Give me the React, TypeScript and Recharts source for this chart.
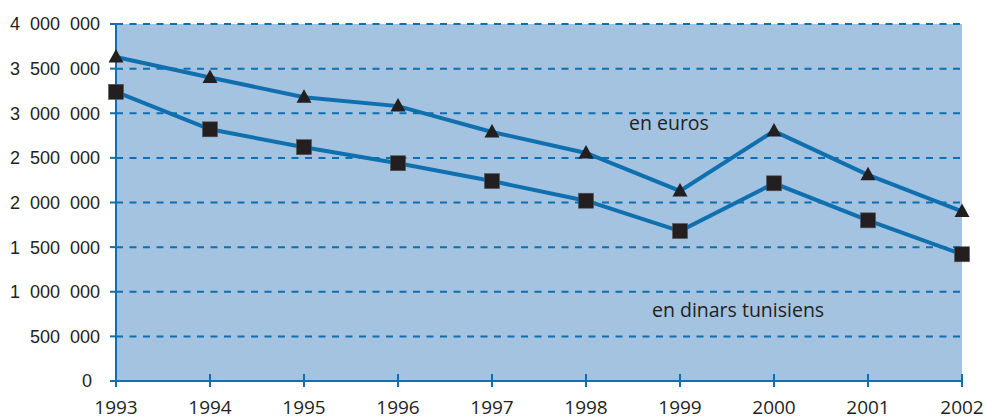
import React from "react";
import { LineChart, Line, XAxis, YAxis, CartesianGrid } from "recharts";

const years = ["1993", "1994", "1995", "1996", "1997", "1998", "1999", "2000", "2001", "2002"];
const euros = [3630000, 3400000, 3180000, 3080000, 2790000, 2555000, 2130000, 2800000, 2310000, 1900000];
const dinars = [3240000, 2820000, 2620000, 2440000, 2240000, 2020000, 1680000, 2215000, 1800000, 1420000];
const yTicks = [0, 500000, 1000000, 1500000, 2000000, 2500000, 3000000, 3500000, 4000000];

const data = years.map((year, i) => ({ year, euros: euros[i], dinars: dinars[i] }));

const BLUE = "#0F6FAF";
const INK = "#231F20";

// 1 500 000 style, with a wide gap like the original
const fmt = (v: number) =>
  v === 0 ? "0" : String(v).replace(/\B(?=(\d{3})+(?!\d))/g, "\u00a0\u00a0");

const YTick = (props: any) => {
  const { x, y, payload } = props;
  return (
    <text
      x={payload.value === 0 ? x - 8 : x}
      y={y}
      dy="0.36em"
      textAnchor="end"
      fill={INK}
      fontFamily="'Liberation Sans', Arial, sans-serif"
      fontSize={18}
    >
      {fmt(payload.value)}
    </text>
  );
};

const XTick = (props: any) => {
  const { x, y, payload } = props;
  return (
    <g>
      <line x1={x} x2={x} y1={y - 7} y2={y + 6} stroke={BLUE} strokeWidth={2} />
      <text
        x={x}
        y={y + 33}
        textAnchor="middle"
        fill={INK}
        fontFamily="'Open Sans', sans-serif"
        fontSize={19}
      >
        {payload.value}
      </text>
    </g>
  );
};

const Triangle = (props: any) => {
  const { cx, cy } = props;
  if (cx == null || cy == null) return null;
  return (
    <path
      d={`M${cx},${cy - 8} L${cx + 7.5},${cy + 5.5} L${cx - 7.5},${cy + 5.5} Z`}
      fill={INK}
    />
  );
};

const Square = (props: any) => {
  const { cx, cy } = props;
  if (cx == null || cy == null) return null;
  return (
    <rect x={cx - 7.5} y={cy - 7.5} width={15} height={15} fill={INK} stroke="#555" strokeWidth={0.6} />
  );
};

export default function App() {
  return (
    <div style={{ position: "absolute", left: 0, top: 0, background: "#fff" }}>
      <LineChart width={987} height={416} data={data} margin={{ top: 24, right: 25, left: 0, bottom: 0 }}>
        <CartesianGrid
          vertical={false}
          fill="#A3C3E0"
          fillOpacity={1}
          stroke={BLUE}
          strokeWidth={2}
          strokeDasharray="7 6.5"
        />
        <XAxis
          dataKey="year"
          height={35}
          axisLine={{ stroke: BLUE, strokeWidth: 2 }}
          tickLine={false}
          tickSize={0}
          tickMargin={0}
          tick={<XTick />}
          interval={0}
        />
        <YAxis
          width={116}
          domain={[0, 4000000]}
          ticks={yTicks}
          interval={0}
          axisLine={{ stroke: BLUE, strokeWidth: 2 }}
          tickLine={{ stroke: BLUE, strokeWidth: 2 }}
          tickSize={6}
          tickMargin={10}
          tick={<YTick />}
        />
        <Line
          dataKey="euros"
          stroke={BLUE}
          strokeWidth={4}
          dot={<Triangle />}
          activeDot={false}
          isAnimationActive={false}
        />
        <Line
          dataKey="dinars"
          stroke={BLUE}
          strokeWidth={4}
          dot={<Square />}
          activeDot={false}
          isAnimationActive={false}
        />
        <text x={629} y={129.5} fill={INK} fontFamily="'Open Sans', sans-serif" fontSize={19.5}>
          en euros
        </text>
        <text x={652} y={316.5} fill={INK} fontFamily="'Open Sans', sans-serif" fontSize={19.5}>
          en dinars tunisiens
        </text>
      </LineChart>
    </div>
  );
}
